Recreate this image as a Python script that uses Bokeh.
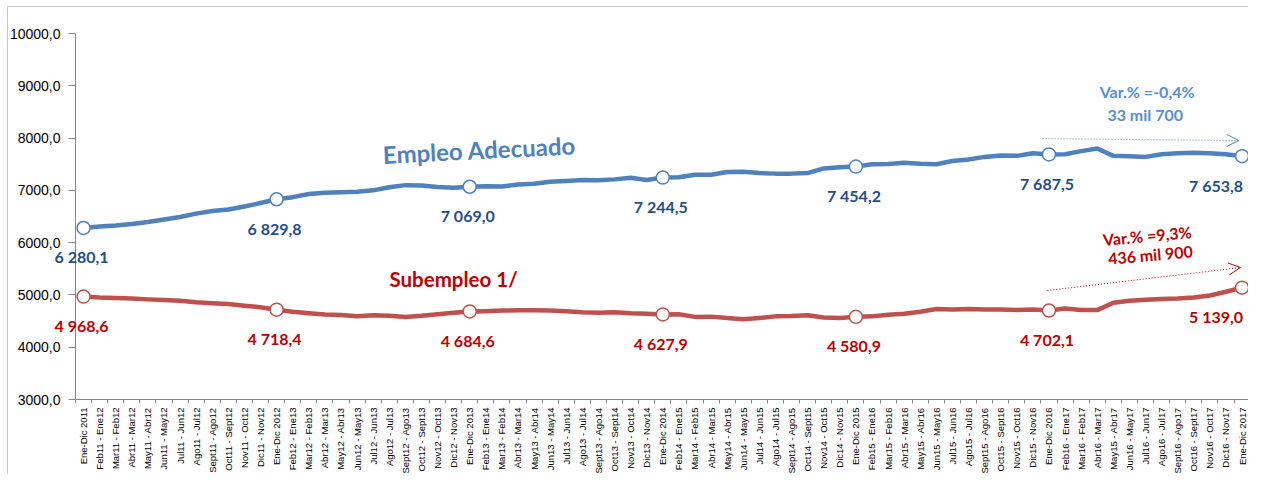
import math
from bokeh.plotting import figure
from bokeh.models import (ColumnDataSource, FixedTicker, Range1d, Arrow, OpenHead, Label,
                          LabelSet)
from bokeh.core.properties import value
from bokeh.embed import file_html
from bokeh.resources import INLINE

periods = [
    "Ene-Dic 2011",
    "Feb11 - Ene12", "Mar11 - Feb12", "Abr11 - Mar12", "May11 - Abr12", "Jun11 - May12", "Jul11 - Jun12",
    "Ago11 - Jul12", "Sept11 - Ago12", "Oct11 - Sept12", "Nov11 - Oct12", "Dic11 - Nov12", "Ene-Dic 2012",
    "Feb12 - Ene13", "Mar12 - Feb13", "Abr12 - Mar13", "May12 - Abr13", "Jun12 - May13", "Jul12 - Jun13",
    "Ago12 - Jul13", "Sept12 - Ago13", "Oct12 - Sept13", "Nov12 - Oct13", "Dic12 - Nov13", "Ene-Dic 2013",
    "Feb13 - Ene14", "Mar13 - Feb14", "Abr13 - Mar14", "May13 - Abr14", "Jun13 - May14", "Jul13 - Jun14",
    "Ago13 - Jul14", "Sept13 - Ago14", "Oct13 - Sept14", "Nov13 - Oct14", "Dic13 - Nov14", "Ene-Dic 2014",
    "Feb14 - Ene15", "Mar14 - Feb15", "Abr14 - Mar15", "May14 - Abr15", "Jun14 - May15", "Jul14 - Jun15",
    "Ago14 - Jul15", "Sept14 - Ago15", "Oct14 - Sept15", "Nov14 - Oct15", "Dic14 - Nov15", "Ene-Dic 2015",
    "Feb15 - Ene16", "Mar15 - Feb16", "Abr15 - Mar16", "May15 - Abr16", "Jun15 - May16", "Jul15 - Jun16",
    "Ago15 - Jul16", "Sept15 - Ago16", "Oct15 - Sept16", "Nov15 - Oct16", "Dic15 - Nov16", "Ene-Dic 2016",
    "Feb16 - Ene17", "Mar16 - Feb17", "Abr16 - Mar17", "May15 - Abr17", "Jun16 - May17", "Jul16 - Jun17",
    "Ago16 - Jul17", "Sept16 - Ago17", "Oct16 - Sept17", "Nov16 - Oct17", "Dic16 - Nov17", "Ene-Dic 2017",
]

empleo_adecuado = [
    6280.1,
    6308, 6327, 6356, 6394, 6442, 6490, 6555, 6604, 6633, 6690, 6757, 6829.8,
    6870, 6930, 6955, 6965, 6975, 7000, 7060, 7100, 7095, 7065, 7050, 7069.0,
    7080, 7075, 7110, 7125, 7165, 7180, 7200, 7195, 7210, 7240, 7200, 7244.5,
    7250, 7300, 7300, 7350, 7355, 7330, 7320, 7320, 7330, 7420, 7440, 7454.2,
    7500, 7505, 7530, 7510, 7500, 7560, 7590, 7640, 7665, 7660, 7710, 7687.5,
    7690, 7750, 7800, 7660, 7650, 7640, 7690, 7710, 7720, 7710, 7690, 7653.8,
]

subempleo = [
    4968.6,
    4950, 4940, 4930, 4915, 4905, 4890, 4860, 4840, 4825, 4795, 4765, 4718.4,
    4680, 4650, 4625, 4615, 4590, 4610, 4600, 4580, 4600, 4630, 4660, 4684.6,
    4690, 4700, 4705, 4705, 4700, 4690, 4670, 4660, 4670, 4650, 4640, 4627.9,
    4630, 4580, 4585, 4560, 4535, 4560, 4590, 4595, 4610, 4570, 4560, 4580.9,
    4590, 4620, 4640, 4680, 4730, 4720, 4730, 4720, 4720, 4710, 4720, 4702.1,
    4740, 4710, 4710, 4850, 4890, 4910, 4920, 4930, 4950, 4990, 5060, 5139.0,
]

y_ticks = [3000, 4000, 5000, 6000, 7000, 8000, 9000, 10000]
y_tick_labels = ["3000,0", "4000,0", "5000,0", "6000,0", "7000,0", "8000,0", "9000,0", "10000,0"]

series_names = ["Empleo Adecuado", "Subempleo 1/"]
var_adecuado = ["Var.% =-0,4%", "33  mil 700"]
var_subempleo = ["Var.% =9,3%", "436 mil 900"]

BLUE_LINE = "#4F81BD"
BLUE_LABEL = "#1F4E89"
BLUE_TEXT = "#558ED5"
RED_LINE = "#C0504D"
RED_LABEL = "#C00000"
AXIS = "#868686"

# ---- layout (pixels) ----
W, H = 1248, 474
AX_LEFT, AX_TOP, AX_BOTTOM = 75, 33, 399      # where the axes sit inside the canvas
RIGHT_PAD = 0.4                                # categories of room after the last one

xs = list(range(len(periods)))
Y0, Y1 = y_ticks[0], y_ticks[-1]
X0, X1 = -0.5, len(periods) - 1.0

px_x = (W - AX_LEFT) / (X1 + RIGHT_PAD - X0)
px_y = (AX_BOTTOM - AX_TOP) / (Y1 - Y0)
x_range = Range1d(X0 - AX_LEFT / px_x, X1 + RIGHT_PAD)
y_range = Range1d(Y0 - (H - AX_BOTTOM) / px_y, Y1 + AX_TOP / px_y)

p = figure(width=W, height=H, output_backend="svg", toolbar_location=None,
           x_range=x_range, y_range=y_range, min_border=0)
p.outline_line_color = None
p.xgrid.grid_line_color = None
p.ygrid.grid_line_color = None
p.background_fill_color = "white"
p.border_fill_color = "white"

# chart-area border (top & left edges)
bx = x_range.start + 7 / px_x
by = y_range.end - 6 / px_y
p.line([bx, bx, x_range.end + 1], [y_range.start - 100, by, by], line_color="#C8C8C8", line_width=1)

# ---- x axis (drawn at y = 3000) ----
xa = p.xaxis[0]
xa.fixed_location = Y0
xa.bounds = (X0, X1 + 0.5)
xa.ticker = FixedTicker(ticks=xs, minor_ticks=[i - 0.5 for i in range(len(periods) + 1)])
xa.major_label_overrides = {i: periods[i] for i in xs}
xa.major_label_orientation = math.pi / 2
xa.major_label_text_font = "Liberation Sans"
xa.major_label_text_font_size = "9.5px"
xa.major_label_text_color = "#000000"
xa.major_label_standoff = 4
xa.major_tick_in = 0
xa.major_tick_out = 0
xa.minor_tick_in = 0
xa.minor_tick_out = 4
xa.minor_tick_line_color = AXIS
xa.axis_line_color = AXIS

# ---- y axis (drawn at the category band edge) ----
ya = p.yaxis[0]
ya.fixed_location = X0
ya.bounds = (Y0, Y1)
ya.ticker = FixedTicker(ticks=y_ticks)
ya.major_label_overrides = {t: l for t, l in zip(y_ticks, y_tick_labels)}
ya.major_label_text_font = "Liberation Sans"
ya.major_label_text_font_size = "14px"
ya.major_label_text_color = "#000000"
ya.major_label_standoff = 8
ya.major_tick_in = 0
ya.major_tick_out = 7
ya.major_tick_line_color = AXIS
ya.minor_tick_line_color = None
ya.axis_line_color = AXIS

# ---- series ----
src = ColumnDataSource(dict(x=xs, a=empleo_adecuado, s=subempleo))
p.line("x", "a", source=src, line_color=BLUE_LINE, line_width=4.5, line_join="round")
p.line("x", "s", source=src, line_color=RED_LINE, line_width=4.5, line_join="round")

label_idx = [i for i, name in enumerate(periods) if name.startswith("Ene-Dic")]


def fmt(v):
    return f"{v:,.1f}".replace(",", " ").replace(".", ",")


lab_src = ColumnDataSource(dict(
    x=label_idx,
    a=[empleo_adecuado[i] for i in label_idx],
    s=[subempleo[i] for i in label_idx],
    ta=[fmt(empleo_adecuado[i]) for i in label_idx],
    ts=[fmt(subempleo[i]) for i in label_idx],
    dx=[-26 if i == len(periods) - 1 else -2 for i in label_idx],
))
p.scatter("x", "a", source=lab_src, size=13, fill_color="white", line_color=BLUE_LINE, line_width=1.5)
p.scatter("x", "s", source=lab_src, size=13, fill_color="white", line_color=RED_LINE, line_width=1.5)

for col, ycol, color in (("ta", "a", BLUE_LABEL), ("ts", "s", RED_LABEL)):
    p.add_layout(LabelSet(x="x", y=ycol, text=col, source=lab_src, x_offset="dx", y_offset=-29,
                          text_align="center", text_baseline="middle", text_font=value("Lato"),
                          text_font_style="bold", text_font_size="16px", text_color=color))

# series names
p.add_layout(Label(x=24.6, y=7780, text=series_names[0], angle=0.05, text_align="center",
                   text_baseline="middle", text_font="Lato", text_font_style="bold",
                   text_font_size="24px", text_color=BLUE_LINE))
p.add_layout(Label(x=23.0, y=5314, text=series_names[1], text_align="center",
                   text_baseline="middle", text_font="Lato", text_font_style="bold",
                   text_font_size="20.5px", text_color=RED_LABEL))

# variation notes
p.add_layout(Label(x=66.1, y=8889, text=var_adecuado[0], text_align="center", text_baseline="middle",
                   text_font="Lato", text_font_style="bold", text_font_size="16px", text_color=BLUE_TEXT))
p.add_layout(Label(x=66.1, y=8449, text=var_adecuado[1], text_align="center", text_baseline="middle",
                   text_font="Lato", text_font_style="bold", text_font_size="16px", text_color=BLUE_TEXT))
p.add_layout(Label(x=66.1, y=6136, text=var_subempleo[0], angle=0.09, text_align="center",
                   text_baseline="middle", text_font="Lato", text_font_style="bold",
                   text_font_size="16px", text_color=RED_LABEL))
p.add_layout(Label(x=66.3, y=5772, text=var_subempleo[1], angle=0.09, text_align="center",
                   text_baseline="middle", text_font="Lato", text_font_style="bold",
                   text_font_size="16px", text_color=RED_LABEL))

p.add_layout(Arrow(end=OpenHead(size=12, line_color=BLUE_LINE, line_width=1),
                   x_start=59.6, y_start=7990, x_end=71.8, y_end=7952,
                   line_color=BLUE_LINE, line_width=1, line_dash="1 2"))
p.add_layout(Arrow(end=OpenHead(size=12, line_color=RED_LABEL, line_width=1),
                   x_start=59.9, y_start=5084, x_end=71.9, y_end=5524,
                   line_color=RED_LABEL, line_width=1, line_dash="1 2"))

open("out.html", "w").write(file_html(p, INLINE))
